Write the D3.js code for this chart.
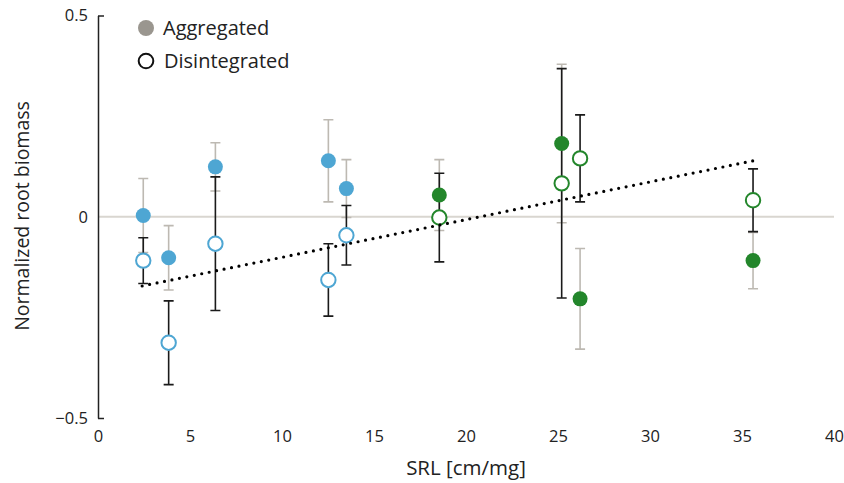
<!DOCTYPE html>
<html>
<head>
<meta charset="utf-8">
<script src="https://cdn.jsdelivr.net/npm/d3@7"></script>
<style>
  body { margin: 0; background: #fff; }
  svg { font-family: "Open Sans", "Noto Sans", sans-serif; }
</style>
</head>
<body>
<svg width="844" height="483"></svg>
<script>
// values
var srl = [2.46, 3.84, 6.38, 12.52, 13.5, 18.55, 25.2, 26.2, 35.6];
var group = ["A", "A", "A", "A", "A", "B", "B", "B", "B"];
var aggregated = [0.003, -0.102, 0.124, 0.139, 0.070, 0.054, 0.182, -0.204, -0.109];
var aggregatedErr = [0.092, 0.08, 0.06, 0.102, 0.072, 0.088, 0.197, 0.125, 0.07];
var disintegrated = [-0.109, -0.313, -0.067, -0.157, -0.046, -0.002, 0.083, 0.145, 0.041];
var disintegratedErr = [0.057, 0.104, 0.166, 0.09, 0.074, 0.11, 0.285, 0.108, 0.078];
var trendX = [2.4, 35.6];
var trendY = [-0.172, 0.139];
var xTicks = [0, 5, 10, 15, 20, 25, 30, 35, 40];
var yTicks = [-0.5, 0, 0.5];

var svg = d3.select("svg");

var xScale = d3.scaleLinear().domain([0, 40]).range([98, 834]);
var yScale = d3.scaleLinear().domain([-0.5, 0.5]).range([418, 15.5]);
var colorScale = d3.scaleOrdinal().domain(["A", "B"]).range(["#4ea6d3", "#23862b"]);

var rows = srl.map(function(d, i) {
	return {x: d, g: group[i], agg: aggregated[i], aggErr: aggregatedErr[i],
		dis: disintegrated[i], disErr: disintegratedErr[i]};
});

// zero line
svg.append("line")
	.attr("x1", xScale(0)).attr("x2", xScale(40))
	.attr("y1", yScale(0)).attr("y2", yScale(0))
	.attr("stroke", "#d9d6d0")
	.attr("stroke-width", 2);

// y axis
var yAxis = d3.axisLeft(yScale)
	.tickValues(yTicks)
	.tickFormat(function(d) { return d == 0 ? "0" : d3.format(".1f")(d).replace("-", "\u2212"); })
	.tickSizeInner(-6)
	.tickSizeOuter(0)
	.tickPadding(10);
svg.append("g")
	.attr("transform", "translate(" + xScale(0) + ",0)")
	.call(yAxis)
	.call(function(g) {
		g.attr("font-size", 16.5).attr("font-family", null);
		g.selectAll(".tick text").attr("fill", "#222");
		g.select(".domain").attr("stroke", "#222").attr("stroke-width", 1.5);
		g.selectAll(".tick line").attr("stroke", "#222").attr("stroke-width", 1.5);
		g.selectAll(".tick").filter(function(d) { return d == 0; }).select("line").remove();
	});

// x axis (labels only)
var xAxis = d3.axisBottom(xScale)
	.tickValues(xTicks)
	.tickSize(0)
	.tickPadding(0);
svg.append("g")
	.attr("transform", "translate(0,430)")
	.call(xAxis)
	.call(function(g) {
		g.attr("font-size", 16.5).attr("font-family", null);
		g.selectAll(".tick text").attr("fill", "#222");
		g.select(".domain").remove();
	});

// error bars
function errorBars(key, errKey, color) {
	var g = svg.append("g").attr("stroke", color).attr("stroke-width", 1.6).attr("fill", "none");
	g.selectAll("path")
		.data(rows)
		.enter()
		.append("path")
		.attr("d", function(d) {
			var x = xScale(d.x), y1 = yScale(d[key] + d[errKey]), y2 = yScale(d[key] - d[errKey]);
			return "M" + (x - 5) + "," + y1 + "H" + (x + 5) + "M" + x + "," + y1 + "V" + y2 +
				"M" + (x - 5) + "," + y2 + "H" + (x + 5);
		});
}
errorBars("agg", "aggErr", "#bdb9b2");
errorBars("dis", "disErr", "#1a1a1a");

// aggregated (filled)
svg.append("g").selectAll("circle")
	.data(rows)
	.enter()
	.append("circle")
	.attr("cx", function(d) { return xScale(d.x); })
	.attr("cy", function(d) { return yScale(d.agg); })
	.attr("r", 7.5)
	.attr("fill", function(d) { return colorScale(d.g); });

// disintegrated (open)
svg.append("g").selectAll("circle")
	.data(rows)
	.enter()
	.append("circle")
	.attr("cx", function(d) { return xScale(d.x); })
	.attr("cy", function(d) { return yScale(d.dis); })
	.attr("r", 7.2)
	.attr("fill", "white")
	.attr("stroke", function(d) { return colorScale(d.g); })
	.attr("stroke-width", 2);

// trend line
svg.append("path")
	.datum(trendX.map(function(d, i) { return [d, trendY[i]]; }))
	.attr("d", d3.line().x(function(d) { return xScale(d[0]); }).y(function(d) { return yScale(d[1]); }))
	.attr("fill", "none")
	.attr("stroke", "#000")
	.attr("stroke-width", 3.2)
	.attr("stroke-linecap", "round")
	.attr("stroke-dasharray", "0 7.6");

// legend
var legend = svg.append("g").attr("transform", "translate(146,28)");
legend.append("circle").attr("r", 8).attr("fill", "#9a968f");
legend.append("text").attr("x", 17).attr("y", 7).attr("font-size", 20).attr("fill", "#222").text("Aggregated");
legend.append("circle").attr("cy", 33).attr("r", 7.3).attr("fill", "white").attr("stroke", "#111").attr("stroke-width", 2);
legend.append("text").attr("x", 18).attr("y", 40).attr("font-size", 20).attr("fill", "#222").text("Disintegrated");

// axis titles
svg.append("text")
	.attr("transform", "translate(466,475)")
	.attr("text-anchor", "middle")
	.attr("font-size", 20.5)
	.attr("fill", "#222")
	.text("SRL [cm/mg]");

svg.append("text")
	.attr("transform", "translate(29,216) rotate(270)")
	.attr("text-anchor", "middle")
	.attr("font-size", 19.5)
	.attr("fill", "#222")
	.text("Normalized root biomass");
</script>
</body>
</html>
